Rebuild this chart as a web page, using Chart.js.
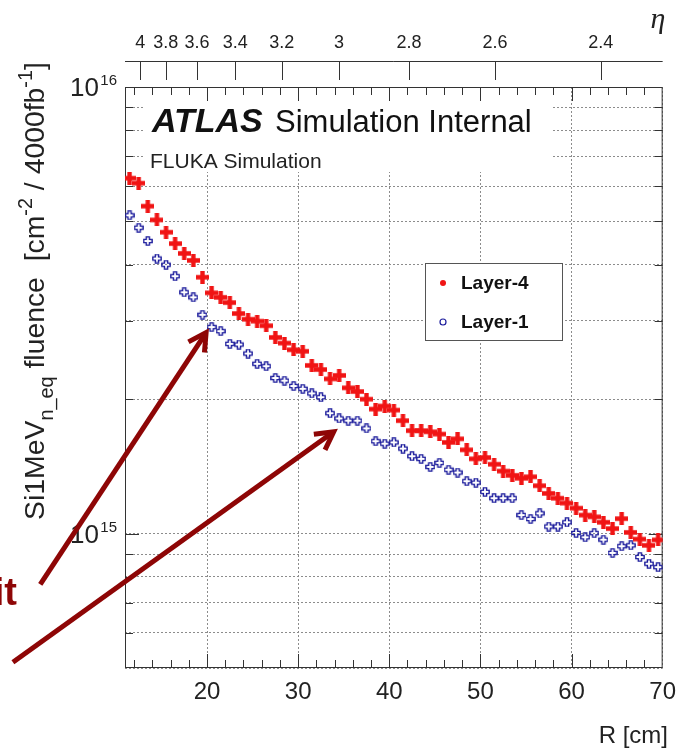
<!DOCTYPE html>
<html>
<head>
<meta charset="utf-8">
<script src="https://cdn.jsdelivr.net/npm/chart.js@4.4.1/dist/chart.umd.min.js"></script>
<style>
  html, body { margin: 0; padding: 0; background: #fff; }
  #chart-box { width: 686px; height: 749px; }
</style>
</head>
<body>
<div id="chart-box"><canvas id="myChart" width="686" height="749"></canvas></div>
<script>
// bin centres in R [cm]
const rCenters = [11.5, 12.5, 13.5, 14.5, 15.5, 16.5, 17.5, 18.5, 19.5, 20.5,
                  21.5, 22.5, 23.5, 24.5, 25.5, 26.5, 27.5, 28.5, 29.5, 30.5,
                  31.5, 32.5, 33.5, 34.5, 35.5, 36.5, 37.5, 38.5, 39.5, 40.5,
                  41.5, 42.5, 43.5, 44.5, 45.5, 46.5, 47.5, 48.5, 49.5, 50.5,
                  51.5, 52.5, 53.5, 54.5, 55.5, 56.5, 57.5, 58.5, 59.5, 60.5,
                  61.5, 62.5, 63.5, 64.5, 65.5, 66.5, 67.5, 68.5, 69.5];
// Layer-4 fluence
const layer4 = [6.25e15, 6.09e15, 5.41e15, 5.04e15, 4.73e15, 4.46e15, 4.24e15, 4.09e15, 3.75e15, 3.46e15,
                3.38e15, 3.29e15, 3.11e15, 3.02e15, 2.99e15, 2.92e15, 2.75e15, 2.67e15, 2.58e15, 2.56e15,
                2.38e15, 2.33e15, 2.22e15, 2.26e15, 2.12e15, 2.08e15, 2.00e15, 1.90e15, 1.93e15, 1.89e15,
                1.79e15, 1.70e15, 1.70e15, 1.69e15, 1.67e15, 1.60e15, 1.63e15, 1.54e15, 1.47e15, 1.48e15,
                1.43e15, 1.38e15, 1.35e15, 1.33e15, 1.34e15, 1.28e15, 1.23e15, 1.20e15, 1.17e15, 1.14e15,
                1.10e15, 1.09e15, 1.06e15, 1.026e15, 1.08e15, 1.006e15, 9.72e14, 9.41e14, 9.68e14];
// Layer-1 fluence
const layer1 = [5.16e15, 4.84e15, 4.52e15, 4.13e15, 4.00e15, 3.77e15, 3.47e15, 3.38e15, 3.09e15, 2.90e15,
                2.84e15, 2.66e15, 2.65e15, 2.53e15, 2.40e15, 2.37e15, 2.23e15, 2.20e15, 2.14e15, 2.11e15,
                2.06e15, 2.02e15, 1.86e15, 1.81e15, 1.79e15, 1.79e15, 1.72e15, 1.61e15, 1.59e15, 1.60e15,
                1.55e15, 1.49e15, 1.47e15, 1.41e15, 1.44e15, 1.39e15, 1.37e15, 1.31e15, 1.30e15, 1.24e15,
                1.20e15, 1.20e15, 1.20e15, 1.10e15, 1.078e15, 1.11e15, 1.037e15, 1.037e15, 1.06e15, 1.003e15,
                9.81e14, 1.002e15, 9.69e14, 9.05e14, 9.37e14, 9.41e14, 8.86e14, 8.56e14, 8.41e14];

const xTicks = [20, 30, 40, 50, 60, 70];
const yGrid = [5e14, 6e14, 7e14, 8e14, 9e14, 1e15, 2e15, 3e15, 4e15, 5e15, 6e15, 7e15, 8e15, 9e15, 1e16];
const yLabels = [1e15, 1e16];
const etaTicks = [4, 3.8, 3.6, 3.4, 3.2, 3, 2.8, 2.6, 2.4];
const Z_ETA = 345.5; // cm, used to place eta ticks on the R axis

const FONT = '"Liberation Sans", Arial, Helvetica, sans-serif';
const RED = '#f01414';
const BLUE = '#1c1c9c';
const ARROW = '#8e0606';

function plusMarker(size, arm, fill, stroke, lw) {
    const c = document.createElement('canvas');
    c.width = c.height = size;
    const g = c.getContext('2d');
    const h = size / 2, a = arm / 2, r = h - (lw || 0) * 0.6;
    g.beginPath();
    g.moveTo(h - a, h - r); g.lineTo(h + a, h - r); g.lineTo(h + a, h - a);
    g.lineTo(h + r, h - a); g.lineTo(h + r, h + a); g.lineTo(h + a, h + a);
    g.lineTo(h + a, h + r); g.lineTo(h - a, h + r); g.lineTo(h - a, h + a);
    g.lineTo(h - r, h + a); g.lineTo(h - r, h - a); g.lineTo(h - a, h - a);
    g.closePath();
    if (fill) { g.fillStyle = fill; g.fill(); }
    if (stroke) { g.strokeStyle = stroke; g.lineWidth = lw; g.stroke(); }
    return c;
}
const redMarker = plusMarker(13, 4.4, RED);
const blueMarker = plusMarker(10, 3.2, null, BLUE, 1.4);

function etaToR(eta) {
    return Z_ETA * Math.tan(2 * Math.atan(Math.exp(-eta)));
}

// rich text: [text, 0 normal | 1 sub | 2 sup]
function richWidth(g, parts, size) {
    let w = 0;
    parts.forEach(p => {
        g.font = (p[1] ? size * 0.7 : size) + 'px ' + FONT;
        w += g.measureText(p[0]).width;
    });
    return w;
}
function drawRich(g, parts, x, y, size) {
    let cx = x;
    parts.forEach(p => {
        const s = p[1] ? size * 0.7 : size;
        g.font = s + 'px ' + FONT;
        let dy = 0;
        if (p[1] === 1) dy = size * 0.3;
        if (p[1] === 2) dy = -size * 0.42;
        g.fillText(p[0], cx, y + dy);
        cx += g.measureText(p[0]).width;
    });
}

const yTitle = [['Si1MeV', 0], ['n_eq', 1], [' fluence  [cm', 0], ['-2', 2], [' / 4000fb', 0], ['-1', 2], [']', 0]];

const arrows = [
    { from: [1.7, 7.7e14], to: [19.9, 2.82e15] },
    { from: [-1.3, 5.15e14], to: [33.9, 1.69e15] }
];

const decor = {
    id: 'decor',
    beforeDatasetsDraw(chart) {
        const g = chart.ctx;
        const { left, right, top, bottom } = chart.chartArea;
        const xs = chart.scales.x, ys = chart.scales.y;
        g.save();
        // white box behind the ATLAS label
        g.fillStyle = '#fff';
        g.fillRect(143, top + 5, 410, 80);
        // frame
        g.strokeStyle = '#333';
        g.lineWidth = 1;
        g.strokeRect(left + 0.5, top + 0.5, right - left - 1, bottom - top - 1);
        g.beginPath();
        for (let r = 12; r < 70; r += 2) {
            const px = Math.round(xs.getPixelForValue(r)) + 0.5;
            const len = r % 10 === 0 ? 14 : 8;
            g.moveTo(px, bottom); g.lineTo(px, bottom - len);
            g.moveTo(px, top); g.lineTo(px, top + len);
        }
        yGrid.forEach(v => {
            if (v === yGrid[0] || v === yGrid[yGrid.length - 1]) return;
            const py = Math.round(ys.getPixelForValue(v)) + 0.5;
            const len = yLabels.includes(v) ? 14 : 8;
            g.moveTo(left, py); g.lineTo(left + len, py);
            g.moveTo(right, py); g.lineTo(right - len, py);
        });
        g.stroke();
        // ATLAS label
        g.fillStyle = '#111';
        g.textBaseline = 'alphabetic';
        g.textAlign = 'left';
        g.font = 'italic bold 34px ' + FONT;
        g.fillText('ATLAS', 152, 132);
        g.font = '31px ' + FONT;
        g.fillText('Simulation Internal', 275, 132);
        g.font = '21px ' + FONT;
        g.fillStyle = '#222';
        g.fillText('FLUKA Simulation', 150, 168);
        g.restore();
    },
    afterDatasetsDraw(chart) {
        const g = chart.ctx;
        g.save();
        // legend
        g.fillStyle = '#fff';
        g.fillRect(425, 263, 137, 77);
        g.strokeStyle = '#555';
        g.lineWidth = 1;
        g.strokeRect(425.5, 263.5, 137, 77);
        const sets = chart.data.datasets;
        const rows = [283, 322];
        sets.forEach((ds, i) => {
            g.beginPath();
            g.arc(443, rows[i], 3, 0, Math.PI * 2);
            if (i === 0) { g.fillStyle = RED; g.fill(); }
            else { g.strokeStyle = BLUE; g.lineWidth = 1.2; g.stroke(); }
            g.fillStyle = '#111';
            g.font = 'bold 19px ' + FONT;
            g.textBaseline = 'middle';
            g.fillText(ds.label, 461, rows[i] + 1);
        });
        g.restore();
    },
    afterDraw(chart) {
        const g = chart.ctx;
        const { left, right, top, bottom } = chart.chartArea;
        const xs = chart.scales.x, ys = chart.scales.y;
        g.save();
        // eta axis on top
        g.strokeStyle = '#333';
        g.lineWidth = 1;
        g.beginPath();
        g.moveTo(left, 61.5); g.lineTo(right, 61.5);
        etaTicks.forEach(e => {
            const px = Math.round(xs.getPixelForValue(etaToR(e))) + 0.5;
            g.moveTo(px, 61); g.lineTo(px, 80);
        });
        g.stroke();
        g.fillStyle = '#222';
        g.font = '18px ' + FONT;
        g.textAlign = 'center';
        g.textBaseline = 'alphabetic';
        etaTicks.forEach(e => {
            g.fillText(String(e), xs.getPixelForValue(etaToR(e)), 48);
        });
        g.font = 'italic 30px "Liberation Serif", serif';
        g.fillText('\u03b7', 658, 28);
        // y tick labels 10^n
        g.fillStyle = '#222';
        yLabels.forEach(v => {
            const py = ys.getPixelForValue(v);
            const ex = String(Math.round(Math.log10(v)));
            g.textAlign = 'right';
            g.font = '15px ' + FONT;
            g.fillText(ex, 117, py - 2);
            g.font = '26px ' + FONT;
            g.fillText('10', 99, py + 9);
        });
        // x axis title
        g.textAlign = 'right';
        g.font = '24px ' + FONT;
        g.fillText('R [cm]', 668, 743);
        // y axis title
        g.save();
        const midY = 291;
        g.translate(44, midY);
        g.rotate(-Math.PI / 2);
        g.textAlign = 'left';
        let size = 28;
        size = size * 458 / richWidth(g, yTitle, size);
        drawRich(g, yTitle, -richWidth(g, yTitle, size) / 2, 0, size);
        g.restore();
        // arrows
        g.strokeStyle = ARROW;
        g.lineWidth = 5;
        g.lineCap = 'butt';
        g.lineJoin = 'miter';
        arrows.forEach(a => {
            const x0 = xs.getPixelForValue(a.from[0]), y0 = ys.getPixelForValue(a.from[1]);
            const x1 = xs.getPixelForValue(a.to[0]), y1 = ys.getPixelForValue(a.to[1]);
            const ang = Math.atan2(y1 - y0, x1 - x0);
            g.beginPath();
            g.moveTo(x0, y0);
            g.lineTo(x1 - 3 * Math.cos(ang), y1 - 3 * Math.sin(ang));
            g.stroke();
            g.beginPath();
            const hl = 20, ha = 0.5;
            g.moveTo(x1 - hl * Math.cos(ang - ha), y1 - hl * Math.sin(ang - ha));
            g.lineTo(x1, y1);
            g.lineTo(x1 - hl * Math.cos(ang + ha), y1 - hl * Math.sin(ang + ha));
            g.stroke();
        });
        g.fillStyle = ARROW;
        g.textAlign = 'right';
        g.font = 'bold 38px "Liberation Sans Narrow", ' + FONT;
        g.fillText('it', 17, 605);
        g.restore();
    }
};

const ctx = document.getElementById('myChart');
const chart = new Chart(ctx, {
    type: 'scatter',
    data: {
        datasets: [{
            label: 'Layer-4',
            data: rCenters.map((r, i) => ({ x: r, y: layer4[i] })),
            pointStyle: redMarker,
            pointRadius: 6
        }, {
            label: 'Layer-1',
            data: rCenters.map((r, i) => ({ x: r, y: layer1[i] })),
            pointStyle: blueMarker,
            pointRadius: 5
        }]
    },
    options: {
        responsive: false,
        animation: false,
        devicePixelRatio: 1,
        layout: { padding: { left: 0, right: 20, top: 87, bottom: 0 } },
        scales: {
            x: {
                type: 'linear',
                min: 11,
                max: 70,
                afterBuildTicks: s => { s.ticks = xTicks.map(v => ({ value: v })); },
                afterFit: s => { s.height = 81; },
                grid: { color: '#8c8c8c', lineWidth: 1, drawTicks: false },
                border: { display: false, dash: [2, 2] },
                ticks: { color: '#222', font: { family: FONT, size: 24 }, padding: 10, maxRotation: 0 }
            },
            y: {
                type: 'logarithmic',
                min: 5e14,
                max: 1e16,
                afterBuildTicks: s => { s.ticks = yGrid.map(v => ({ value: v })); },
                afterFit: s => { s.width = 125; },
                grid: { color: '#8c8c8c', lineWidth: 1, drawTicks: false },
                border: { display: false, dash: [2, 2] },
                ticks: { display: false }
            }
        },
        plugins: {
            legend: { display: false },
            tooltip: { enabled: false }
        }
    },
    plugins: [decor]
});
</script>
</body>
</html>
